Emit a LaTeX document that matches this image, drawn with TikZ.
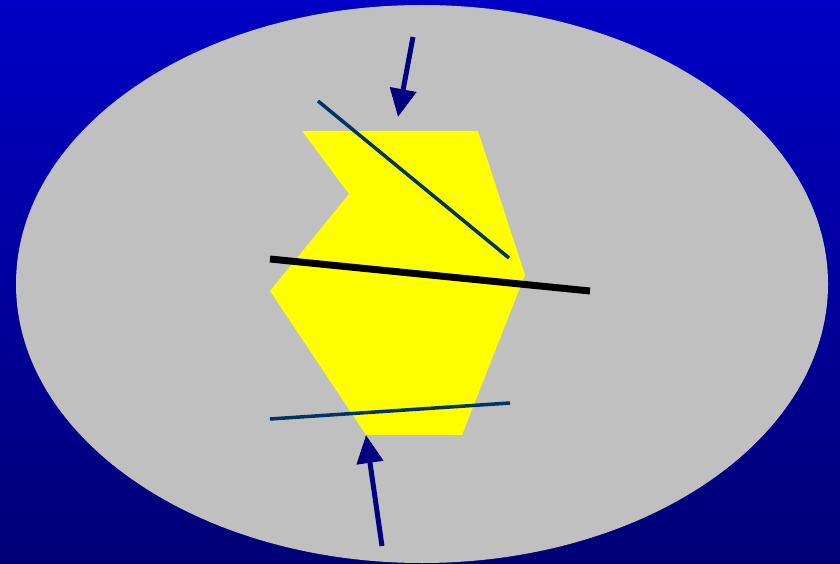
\documentclass[tikz,border=0pt]{standalone}
\usetikzlibrary{arrows.meta}
\definecolor{bgtop}{RGB}{0,0,198}
\definecolor{bgbot}{RGB}{0,0,118}
\definecolor{ellgrey}{RGB}{192,192,192}
\definecolor{polyyellow}{RGB}{255,255,0}
\definecolor{linecol}{RGB}{0,51,102}
\definecolor{arrcol}{RGB}{0,0,128}
\tikzset{
  thinline/.style={draw=linecol, line width=3.5pt},
  axisline/.style={draw=black, line width=7pt},
  bigarrow/.style={draw=arrcol, line width=5pt, -{Triangle[length=28pt,width=26pt]}},
}
\begin{document}
\begin{tikzpicture}[x=1pt,y=-1pt]
\useasboundingbox (0,0) rectangle (840,564);
\shade[top color=bgtop, bottom color=bgbot] (0,0) rectangle (840,564);
\fill[ellgrey] (422,284) ellipse [x radius=406, y radius=279];
\fill[polyyellow] (302,131) -- (478,131) -- (525,275) -- (462,435) -- (366,435) -- (270,291) -- (349,194) -- cycle;
\coordinate (d1) at (318,101);
\coordinate (d2) at (509,258);
\coordinate (b1) at (270,259);
\coordinate (b2) at (590,291);
\coordinate (l1) at (270,419);
\coordinate (l2) at (510,403);
\coordinate (ta) at (413,37);
\coordinate (tb) at (398,117);
\coordinate (ua) at (382,546);
\coordinate (ub) at (366,435);
\draw[thinline] (d1) -- (d2);
\draw[axisline] (b1) -- (b2);
\draw[thinline] (l1) -- (l2);
\draw[bigarrow] (ta) -- (tb);
\draw[bigarrow] (ua) -- (ub);
\end{tikzpicture}
\end{document}
